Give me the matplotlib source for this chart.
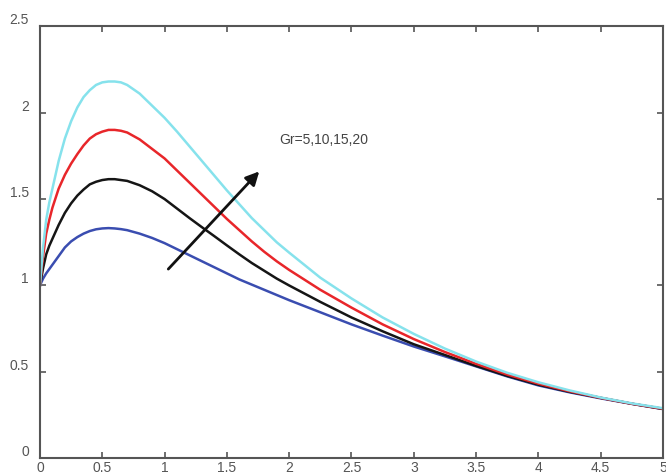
import numpy as np
import matplotlib.pyplot as plt

plt.rcParams['font.family'] = ['Liberation Sans', 'DejaVu Sans']

x = [0, 0.025, 0.05, 0.075, 0.1, 0.15, 0.2, 0.25, 0.3, 0.35, 0.4, 0.45, 0.5, 0.55, 0.6,
     0.65, 0.7, 0.8, 0.9, 1.0, 1.1, 1.2, 1.3, 1.4, 1.5, 1.6, 1.7, 1.8, 1.9, 2.0,
     2.25, 2.5, 2.75, 3.0, 3.25, 3.5, 3.75, 4.0, 4.25, 4.5, 4.75, 5.0]

gr5 = [1.0, 1.04, 1.07, 1.095, 1.12, 1.17, 1.22, 1.255, 1.28, 1.30, 1.315, 1.325, 1.33, 1.332, 1.33,
       1.326, 1.32, 1.30, 1.275, 1.245, 1.21, 1.175, 1.14, 1.105, 1.07, 1.035, 1.005, 0.975, 0.945, 0.915,
       0.845, 0.775, 0.71, 0.647, 0.59, 0.532, 0.474, 0.422, 0.382, 0.347, 0.315, 0.285]
gr10 = [1.0, 1.10, 1.18, 1.23, 1.27, 1.35, 1.42, 1.475, 1.52, 1.555, 1.585, 1.60, 1.61, 1.615, 1.615,
        1.61, 1.605, 1.58, 1.545, 1.50, 1.445, 1.39, 1.337, 1.285, 1.232, 1.18, 1.13, 1.085, 1.04, 1.00,
        0.905, 0.815, 0.735, 0.66, 0.598, 0.535, 0.477, 0.426, 0.385, 0.35, 0.316, 0.286]
gr15 = [1.0, 1.17, 1.30, 1.38, 1.45, 1.56, 1.64, 1.705, 1.76, 1.81, 1.85, 1.875, 1.89, 1.90, 1.90,
        1.895, 1.885, 1.845, 1.79, 1.735, 1.665, 1.595, 1.525, 1.455, 1.385, 1.32, 1.255, 1.195, 1.14, 1.09,
        0.975, 0.872, 0.775, 0.69, 0.615, 0.547, 0.485, 0.432, 0.388, 0.35, 0.316, 0.287]
gr20 = [1.0, 1.22, 1.38, 1.48, 1.56, 1.72, 1.85, 1.95, 2.03, 2.09, 2.13, 2.16, 2.175, 2.18, 2.18,
        2.175, 2.16, 2.11, 2.04, 1.97, 1.89, 1.805, 1.72, 1.635, 1.55, 1.47, 1.39, 1.32, 1.25, 1.19,
        1.045, 0.925, 0.815, 0.72, 0.635, 0.56, 0.495, 0.44, 0.393, 0.352, 0.318, 0.29]

xticks = [0, 0.5, 1, 1.5, 2, 2.5, 3, 3.5, 4, 4.5, 5]
xticklabels = ['0', '0.5', '1', '1.5', '2', '2.5', '3', '3.5', '4', '4.5', '5']
yticks = [0, 0.5, 1, 1.5, 2, 2.5]
yticklabels = ['0', '0.5', '1', '1.5', '2', '2.5']

if __name__ == "__main__":
    fig = plt.figure(figsize=(6.66, 4.77), dpi=100)
    ax = fig.add_axes([0.060, 0.037, 0.9355, 0.906])

    ax.plot(x, gr5, color='#3a4db0', lw=1.8, solid_joinstyle='round')
    ax.plot(x, gr10, color='#151515', lw=1.8, solid_joinstyle='round')
    ax.plot(x, gr15, color='#e8262a', lw=1.8, solid_joinstyle='round')
    ax.plot(x, gr20, color='#86e2ec', lw=1.8, solid_joinstyle='round')

    ax.annotate('', xy=(1.76, 1.66), xytext=(1.03, 1.095),
                arrowprops=dict(arrowstyle='-|>', color='#111111', lw=2,
                                mutation_scale=20, shrinkA=0, shrinkB=0))
    ax.text(1.92, 1.845, 'Gr=5,10,15,20', fontsize=10, color='#444444',
            va='center', ha='left')

    ax.set_xlim(0, 5)
    ax.set_ylim(0, 2.5)
    ax.set_xticks(xticks)
    ax.set_xticklabels(xticklabels)
    ax.set_yticks(yticks)
    ax.set_yticklabels(yticklabels, va='bottom')
    ax.tick_params(direction='in', length=4, width=1.2, colors='#555555',
                   labelcolor='#555555', labelsize=10, top=True, right=True)
    ax.tick_params(axis='x', pad=1)
    ax.tick_params(axis='y', pad=8)
    for s in ax.spines.values():
        s.set_color('#555555')
        s.set_linewidth(1.5)

    plt.savefig("out.png", dpi=100)
